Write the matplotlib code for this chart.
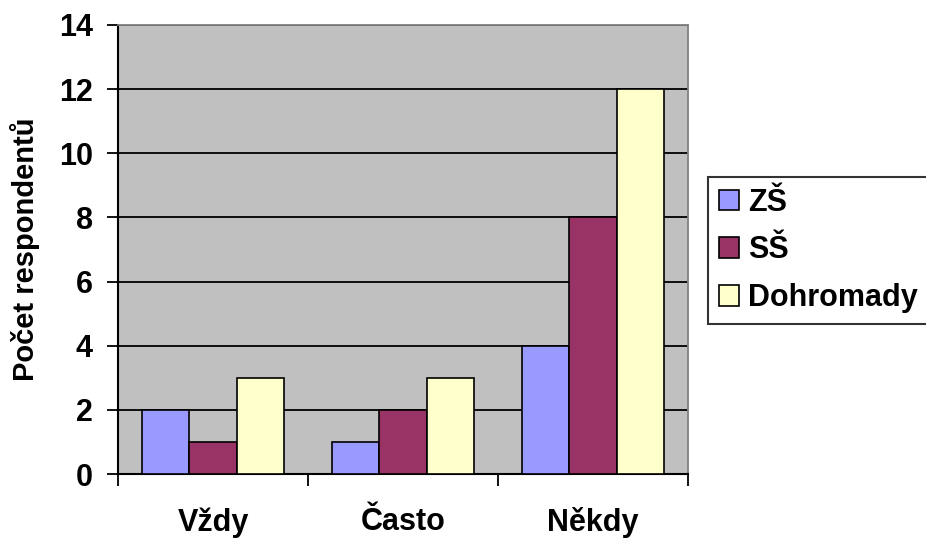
import matplotlib
matplotlib.use("Agg")
import matplotlib.pyplot as plt
import numpy as np

categories = ["Vždy", "Často", "Někdy"]
series_names = ["ZŠ", "SŠ", "Dohromady"]
zs = [2, 1, 4]
ss = [1, 2, 8]
dohromady = [3, 3, 12]
y_ticks = [0, 2, 4, 6, 8, 10, 12, 14]

colors = ["#9999FF", "#993366", "#FFFFCC"]

plt.rcParams["font.family"] = ["Liberation Sans", "DejaVu Sans"]
plt.rcParams["font.weight"] = "bold"

fig = plt.figure(figsize=(9.26, 5.4), dpi=100)
ax = fig.add_axes([118 / 926, 66 / 540, 570 / 926, 449 / 540])
ax.set_facecolor("#C0C0C0")

x = np.arange(len(categories))
w = 0.25
handles = []
for i, (vals, name) in enumerate(zip([zs, ss, dohromady], series_names)):
    b = ax.bar(x + (i - 1) * w, vals, width=w, color=colors[i],
               edgecolor="black", linewidth=1.2, label=name, zorder=3)
    handles.append(b)

ax.set_xlim(-0.5, 2.5)
ax.set_ylim(0, 14)
ax.set_yticks(y_ticks)
ax.yaxis.grid(True, color="black", linewidth=1.3, zorder=1)
ax.set_axisbelow(True)

ax.set_xticks(x)
ax.set_xticklabels(categories, fontsize=22, fontweight="bold")
ax.tick_params(axis="x", which="major", length=0, pad=24)
ax.set_xticks([-0.5, 0.5, 1.5, 2.5], minor=True)
ax.tick_params(axis="x", which="minor", length=8.5, width=1.3, direction="out")
ax.tick_params(axis="y", length=8, width=1.3, pad=10, labelsize=22)
for t in ax.get_yticklabels():
    t.set_fontweight("bold")

for side in ["left", "bottom"]:
    ax.spines[side].set_color("black")
    ax.spines[side].set_linewidth(1.5)
for side in ["top", "right"]:
    ax.spines[side].set_color("#808080")
    ax.spines[side].set_linewidth(1.3)

ax.set_ylabel("Počet respondentů", fontsize=21, fontweight="bold", labelpad=14)

leg = fig.legend(handles=handles, labels=series_names, loc="upper left",
                 bbox_to_anchor=(708 / 926, 1 - 177 / 540),
                 frameon=True, fancybox=False, edgecolor="black",
                 prop={"size": 22, "weight": "bold"},
                 handlelength=0.65, handleheight=0.65, handletextpad=0.3,
                 borderpad=0.35, labelspacing=0.58, borderaxespad=0)
leg.get_frame().set_linewidth(1.5)

fig.savefig("out.png", dpi=100, facecolor="white")
